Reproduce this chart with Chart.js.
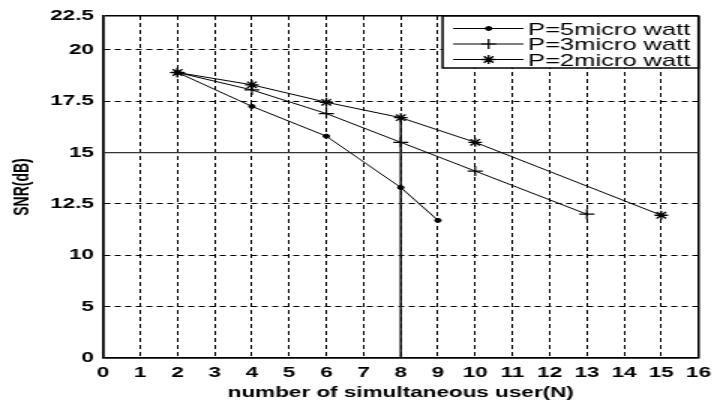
<!DOCTYPE html>
<html>
<head>
<meta charset="utf-8">
<script src="https://cdn.jsdelivr.net/npm/chart.js@4/dist/chart.umd.min.js"></script>
<style>
  html, body { margin: 0; padding: 0; background: #fff; }
  /* the source figure is stretched sideways, so draw narrow and widen it */
  #wrap { width: 480px; height: 408px; transform: scaleX(1.5); transform-origin: 0 0; }
</style>
</head>
<body>
<div id="wrap"><canvas id="snrChart" width="480" height="408"></canvas></div>
<script>
// data
const seriesNames = ['P=5micro watt', 'P=3micro watt', 'P=2micro watt'];
const users5 = [2, 4, 6, 8, 9];
const snr5 = [18.9, 17.25, 15.8, 13.3, 11.7];
const users3 = [2, 4, 6, 8, 10, 13];
const snr3 = [18.9, 18.05, 16.9, 15.5, 14.1, 12.0];
const users2 = [2, 4, 6, 8, 10, 15];
const snr2 = [18.9, 18.3, 17.45, 16.7, 15.5, 11.95];
const thresholdSNR = 15;
const cutoffUsers = 8;
const yTicks = [0, 5, 10, 12.5, 15, 17.5, 20, 22.5];
const xRange = [0, 16];

// the y axis labels are not evenly valued: each one sits on its own grid slot
const ySlots = [0, 1, 2, 3, 4, 5, 6, 6.66];

function slotOf(v) {
    for (let i = 1; i < yTicks.length; i++) {
        if (v <= yTicks[i] || i === yTicks.length - 1) {
            const a = yTicks[i - 1], b = yTicks[i];
            return ySlots[i - 1] + (v - a) / (b - a) * (ySlots[i] - ySlots[i - 1]);
        }
    }
    return 0;
}

class SlotScale extends Chart.LinearScale {
    static id = 'slots';
    static defaults = Chart.LinearScale.defaults;
    getPixelForValue(value) {
        if (value === null || isNaN(value)) return NaN;
        return this.getPixelForDecimal(slotOf(value) / ySlots[ySlots.length - 1]);
    }
    getValueForPixel(pixel) {
        const slot = this.getDecimalForPixel(pixel) * ySlots[ySlots.length - 1];
        for (let i = 1; i < ySlots.length; i++) {
            if (slot <= ySlots[i] || i === ySlots.length - 1) {
                const a = ySlots[i - 1], b = ySlots[i];
                return yTicks[i - 1] + (slot - a) / (b - a) * (yTicks[i] - yTicks[i - 1]);
            }
        }
        return 0;
    }
}
Chart.register(SlotScale);

const toPoints = (xs, ys) => xs.map((x, i) => ({ x: x, y: ys[i] }));

const isEdge = (ctx, lo, hi) => !ctx.tick || ctx.tick.value === lo || ctx.tick.value === hi;

// legend drawn inside the top right corner, framed like the matlab one
const legendBox = {
    id: 'legendBox',
    afterDraw(chart) {
        const { ctx, chartArea } = chart;
        const w = 170.6, h = 52;
        const x = chartArea.right - w, y = chartArea.top;
        ctx.save();
        ctx.fillStyle = '#fff';
        ctx.fillRect(x, y, w, h);
        ctx.strokeStyle = '#000';
        ctx.lineWidth = 1.5;
        ctx.strokeRect(x, y, w, h);
        ctx.font = '17px "Liberation Sans", Arial, sans-serif';
        ctx.textBaseline = 'middle';
        ctx.fillStyle = '#000';
        seriesNames.forEach((name, i) => {
            const ds = chart.data.datasets[i];
            const ly = y + 12.5 + i * 15.5;
            ctx.lineWidth = 1;
            ctx.beginPath();
            ctx.moveTo(x + 7, ly);
            ctx.lineTo(x + 54, ly);
            ctx.stroke();
            ctx.lineWidth = ds.pointBorderWidth;
            Chart.helpers.drawPoint(ctx, {
                pointStyle: ds.pointStyle,
                radius: ds.pointRadius,
                borderWidth: ds.pointBorderWidth,
                rotation: 0
            }, x + 30.7, ly);
            ctx.fillText(name, x + 57, ly + 1.5);
        });
        ctx.restore();
    }
};

const whiteBg = {
    id: 'whiteBg',
    beforeDraw(chart) {
        const ctx = chart.ctx;
        ctx.save();
        ctx.fillStyle = '#fff';
        ctx.fillRect(0, 0, chart.width, chart.height);
        ctx.restore();
    }
};

const tickFont = { family: '"Liberation Sans", Arial, sans-serif', size: 15, weight: 'bold' };

new Chart(document.getElementById('snrChart'), {
    type: 'line',
    data: {
        datasets: [
            {
                label: seriesNames[0],
                data: toPoints(users5, snr5),
                borderColor: '#000', backgroundColor: '#000', borderWidth: 1,
                pointStyle: 'circle', pointRadius: 2, pointBorderWidth: 1
            },
            {
                label: seriesNames[1],
                data: toPoints(users3, snr3),
                borderColor: '#000', backgroundColor: '#000', borderWidth: 1,
                pointStyle: 'cross', pointRadius: 5, pointBorderWidth: 1.2
            },
            {
                label: seriesNames[2],
                data: toPoints(users2, snr2),
                borderColor: '#000', backgroundColor: '#000', borderWidth: 1,
                pointStyle: 'star', pointRadius: 4.5, pointBorderWidth: 1.3
            },
            {
                label: 'threshold',
                data: toPoints(xRange, [thresholdSNR, thresholdSNR]),
                borderColor: '#333', borderWidth: 1.2, pointRadius: 0
            },
            {
                label: 'cutoff',
                data: toPoints([cutoffUsers, cutoffUsers], [0, snr2[users2.indexOf(cutoffUsers)]]),
                borderColor: '#000', borderWidth: 1.4, pointRadius: 0
            }
        ]
    },
    options: {
        responsive: false,
        devicePixelRatio: 1,
        animation: false,
        events: [],
        layout: { padding: { top: 16, right: 8.7, bottom: 0, left: 0 } },
        plugins: { legend: { display: false }, tooltip: { enabled: false } },
        scales: {
            x: {
                type: 'linear',
                min: xRange[0],
                max: xRange[1],
                afterFit: (s) => { s.height = 50; },
                ticks: { stepSize: 1, color: '#000', font: tickFont, padding: 6, autoSkip: false, maxRotation: 0 },
                grid: {
                    color: '#000',
                    drawTicks: false,
                    lineWidth: (ctx) => isEdge(ctx, xRange[0], xRange[1]) ? 1.5 : 1
                },
                border: {
                    color: '#000', width: 1.5,
                    dash: (ctx) => isEdge(ctx, xRange[0], xRange[1]) ? [] : [4, 3]
                },
                title: {
                    display: true,
                    text: 'number of simultaneous user(N)',
                    color: '#000',
                    font: { family: '"Liberation Sans", Arial, sans-serif', size: 15, weight: 'bold' },
                    padding: { top: 0, bottom: 6 }
                }
            },
            y: {
                type: 'slots',
                min: yTicks[0],
                max: yTicks[yTicks.length - 1],
                afterFit: (s) => { s.width = 68.7; },
                afterBuildTicks: (s) => { s.ticks = yTicks.map(v => ({ value: v })); },
                ticks: { color: '#000', font: tickFont, padding: 6, autoSkip: false, callback: (v) => String(v) },
                grid: {
                    color: '#000',
                    drawTicks: false,
                    lineWidth: (ctx) => isEdge(ctx, yTicks[0], yTicks[yTicks.length - 1]) ? 1.5 : 1
                },
                border: {
                    color: '#000', width: 1.5,
                    dash: (ctx) => isEdge(ctx, yTicks[0], yTicks[yTicks.length - 1]) ? [] : [4, 3]
                },
                title: {
                    display: true,
                    text: 'SNR(dB)',
                    color: '#000',
                    font: { family: '"Liberation Sans", Arial, sans-serif', size: 14, weight: 'bold' },
                    padding: { top: 7, bottom: 0 }
                }
            }
        }
    },
    plugins: [whiteBg, legendBox]
});
</script>
</body>
</html>
